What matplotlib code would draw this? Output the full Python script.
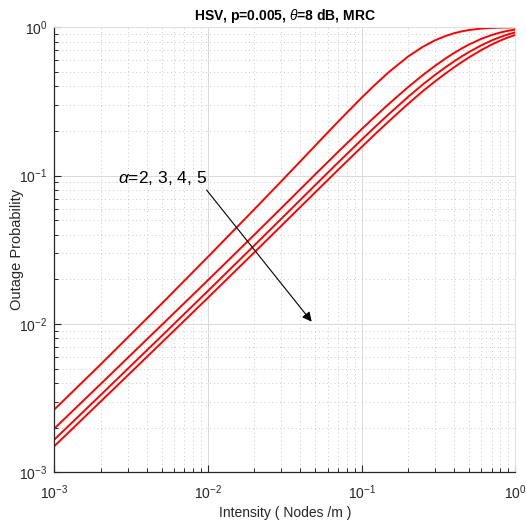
import matplotlib
matplotlib.use("Agg")
import matplotlib.pyplot as plt
from matplotlib.ticker import LogLocator, NullFormatter

plt.rcParams['font.family'] = ['Liberation Sans', 'DejaVu Sans']
plt.rcParams['mathtext.fontset'] = 'custom'
plt.rcParams['mathtext.rm'] = 'Liberation Sans'
plt.rcParams['mathtext.it'] = 'Liberation Sans:italic'
plt.rcParams['mathtext.bf'] = 'Liberation Sans:bold'
plt.rcParams['mathtext.default'] = 'regular'

# Intensity values (Nodes/m)
intensity = [0.001, 0.002, 0.005, 0.01, 0.02, 0.03, 0.04, 0.05, 0.07, 0.1, 0.12, 0.15,
             0.2, 0.25, 0.3, 0.35, 0.4, 0.45, 0.5, 0.6, 0.7, 0.8, 0.9, 1.0]

# Outage probability for alpha = 2, 3, 4, 5
outage_a2 = [0.00265, 0.00533, 0.0137, 0.02836, 0.0592, 0.0916, 0.1252, 0.1598, 0.2302,
             0.3354, 0.4031, 0.4983, 0.6341, 0.7391, 0.8167, 0.8727, 0.9122, 0.9397,
             0.9587, 0.9808, 0.9911, 0.9959, 0.9981, 0.9991]
outage_a3 = [0.00197, 0.003932, 0.009846, 0.01973, 0.03988, 0.06039, 0.08126, 0.1022,
             0.1441, 0.2058, 0.2458, 0.3038, 0.3943, 0.4762, 0.5495, 0.6146, 0.6720,
             0.7222, 0.7659, 0.8359, 0.8867, 0.9229, 0.9483, 0.9658]
outage_a4 = [0.00166, 0.003314, 0.008303, 0.01671, 0.03382, 0.05121, 0.06883, 0.08656,
             0.1221, 0.1748, 0.2093, 0.2595, 0.3386, 0.4118, 0.4773, 0.5363, 0.5899,
             0.6383, 0.6820, 0.7559, 0.8148, 0.8611, 0.8971, 0.9247]
outage_a5 = [0.0015, 0.002996, 0.007492, 0.01503, 0.03035, 0.0459, 0.06158, 0.07736,
             0.109, 0.156, 0.187, 0.2322, 0.3041, 0.3712, 0.4316, 0.4868, 0.5378,
             0.5845, 0.6275, 0.7021, 0.764, 0.8147, 0.8558, 0.889]

series = [outage_a2, outage_a3, outage_a4, outage_a5]

fig = plt.figure(figsize=(5.26, 5.28), dpi=100)
ax = fig.add_axes([0.1032, 0.1055, 0.8765, 0.8428])

for s in series:
    ax.plot(intensity, s, color='#ff0000', lw=1.4, solid_joinstyle='round')

ax.set_xscale('log')
ax.set_yscale('log')
ax.set_xlim(1e-3, 1)
ax.set_ylim(1e-3, 1)

ax.xaxis.set_major_locator(LogLocator(base=10, numticks=10))
ax.yaxis.set_major_locator(LogLocator(base=10, numticks=10))
ax.xaxis.set_minor_locator(LogLocator(base=10, subs=range(2, 10), numticks=20))
ax.yaxis.set_minor_locator(LogLocator(base=10, subs=range(2, 10), numticks=20))
ax.xaxis.set_minor_formatter(NullFormatter())
ax.yaxis.set_minor_formatter(NullFormatter())

ax.grid(True, which='major', color='#d9d9d9', lw=0.7, ls='-')
ax.grid(True, which='minor', color='#c8c8c8', lw=0.7, ls=(0, (1, 3)))
ax.set_axisbelow(True)

for side in ['top', 'right']:
    ax.spines[side].set_color('#e0e0e0')
    ax.spines[side].set_linewidth(0.7)
for side in ['left', 'bottom']:
    ax.spines[side].set_color('#262626')
    ax.spines[side].set_linewidth(0.9)

ax.tick_params(which='both', direction='in', colors='#262626', labelsize=10,
               top=False, right=False)
ax.tick_params(which='major', length=5, width=0.8)
ax.tick_params(which='minor', length=3, width=0.7)
ax.tick_params(axis='x', which='major', pad=8)
ax.tick_params(axis='y', which='major', pad=5)

ax.set_xlabel('Intensity ( Nodes /m )', fontsize=10, color='#262626')
ax.xaxis.set_label_coords(0.5, -0.076)
ax.set_ylabel('Outage Probability', fontsize=10.5, color='#262626')
ax.yaxis.set_label_coords(-0.066, 0.5)
ax.set_title(r'HSV, p=0.005, $\mathit{\theta}$=8 dB, MRC', fontsize=10,
             fontweight='bold', color='#000000', pad=5)

ax.text(0.0026, 0.0965, r'$\mathit{\alpha}$=2, 3, 4, 5', fontsize=12.5,
        ha='left', va='center', color='#000000')
ax.annotate('', xy=(0.0473, 0.01036), xytext=(0.0098, 0.080),
            arrowprops=dict(arrowstyle='-|>', color='black', lw=0.8,
                            mutation_scale=14, shrinkA=0, shrinkB=0))

fig.savefig('out.png', dpi=100)
